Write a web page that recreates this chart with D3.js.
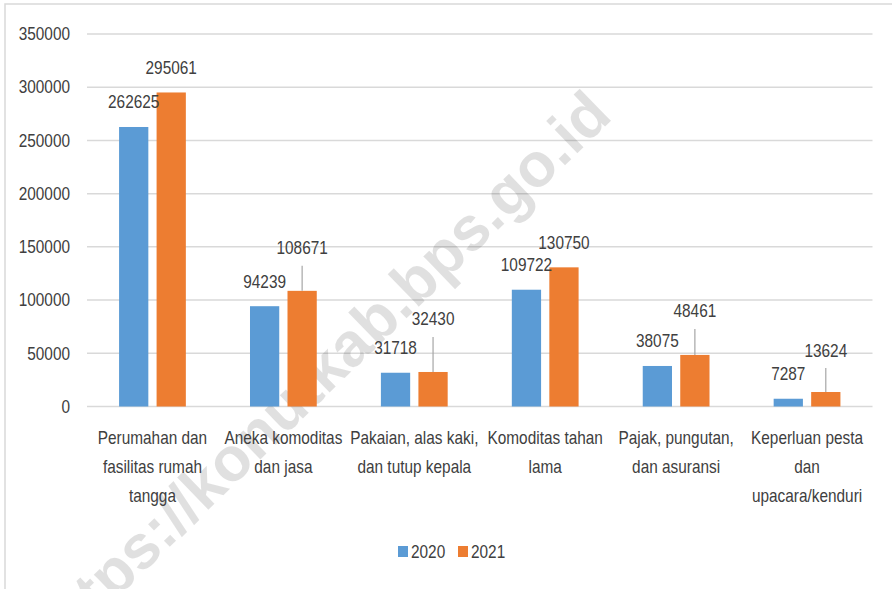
<!DOCTYPE html>
<html>
<head>
<meta charset="utf-8">
<script src="https://cdn.jsdelivr.net/npm/d3@7"></script>
<style>
  body { margin: 0; background: #fff; }
  svg text { font-family: "Liberation Sans", Arial, sans-serif; fill: #404040; }
</style>
</head>
<body>
<div id="chart"></div>
<script>
// data
var categories = [
    ["Perumahan dan", "fasilitas rumah", "tangga"],
    ["Aneka komoditas", "dan jasa"],
    ["Pakaian, alas kaki,", "dan tutup kepala"],
    ["Komoditas tahan", "lama"],
    ["Pajak, pungutan,", "dan asuransi"],
    ["Keperluan pesta", "dan", "upacara/kenduri"]
];
var years = ["2020", "2021"];
var values2020 = [262625, 94239, 31718, 109722, 38075, 7287];
var values2021 = [295061, 108671, 32430, 130750, 48461, 13624];
var yTicks = [0, 50000, 100000, 150000, 200000, 250000, 300000, 350000];
var colors = ["#5b9bd5", "#ed7d31"];

// labels of 2021 were dragged up in the original, some with leader lines
var labelLift2021 = [25, 43, 53, 25, 44, 42];

var W = 892, H = 589;
var margin = {top: 34, left: 87, right: 19.5, bottom: 182.5};
var fs = "18px", squeeze = 0.855;   // narrow text like the original

var svg = d3.select("#chart").append("svg")
    .attr("width", W).attr("height", H);

// outer frame (only top and left edges visible)
svg.append("rect").attr("x", 5).attr("y", 4)
    .attr("width", W + 20).attr("height", H + 20)
    .style("fill", "none").style("stroke", "#d9d9d9").style("stroke-width", 1.5);

var catIdx = categories.map(function(d, i) { return i; });
var x = d3.scaleBand().domain(catIdx).range([margin.left, W - margin.right]);
var bw = x.bandwidth();
var xSub = d3.scaleBand().domain(years).range([bw * 0.245, bw * 0.755]).paddingInner(0.22);
var y = d3.scaleLinear().domain([0, 350000]).range([H - margin.bottom, margin.top]);

function narrowText(parent, tx, ty, str) {
    return parent.append("text")
        .attr("transform", "translate(" + tx + "," + ty + ") scale(" + squeeze + ",1)")
        .style("font-size", fs).text(str);
}

// gridlines
svg.append("g").selectAll("line").data(yTicks).enter().append("line")
    .attr("x1", margin.left).attr("x2", W - margin.right)
    .attr("y1", function(d) { return y(d); }).attr("y2", function(d) { return y(d); })
    .style("stroke", "#d9d9d9").style("stroke-width", 1.5);

// y axis labels
var yAxis = d3.axisLeft(y).tickValues(yTicks).tickSize(0).tickPadding(17 / squeeze)
    .tickFormat(d3.format("d"));
var gy = svg.append("g").attr("transform", "translate(" + margin.left + ",0)").call(yAxis);
gy.select(".domain").remove();
gy.selectAll("text").style("font-size", fs).style("font-family", null).attr("fill", null)
    .attr("transform", "scale(" + squeeze + ",1)");

// watermark
svg.append("text")
    .attr("transform", "translate(614,118) rotate(-44)")
    .attr("text-anchor", "end")
    .style("font-weight", "bold").style("font-size", "62px")
    .style("fill", "#000").style("fill-opacity", 0.12)
    .text("https://konutkab.bps.go.id");

var series = [values2020, values2021];

// bars
series.forEach(function(vals, s) {
    svg.append("g").selectAll("rect").data(vals).enter().append("rect")
        .attr("x", function(d, i) { return x(i) + xSub(years[s]); })
        .attr("width", xSub.bandwidth())
        .attr("y", function(d) { return y(d); })
        .attr("height", function(d) { return y(0) - y(d); })
        .style("fill", colors[s]);
});

// value labels
series.forEach(function(vals, s) {
    var g = svg.append("g");
    vals.forEach(function(d, i) {
        var cx = x(i) + xSub(years[s]) + xSub.bandwidth() / 2;
        var lift = s === 0 ? 25 : labelLift2021[i];
        if (lift > 30) {
            g.append("line").attr("x1", cx).attr("x2", cx)
                .attr("y1", y(d) - lift + 18).attr("y2", y(d))
                .style("stroke", "#a6a6a6").style("stroke-width", 1.2);
        }
        narrowText(g, cx, y(d) - lift + 6.5, d).attr("text-anchor", "middle");
    });
});

// category labels
var gx = svg.append("g");
categories.forEach(function(lines, i) {
    var t = narrowText(gx, x(i) + bw / 2, 0, null).attr("text-anchor", "middle");
    lines.forEach(function(l, k) {
        t.append("tspan").attr("x", 0).attr("y", 444.5 + k * 29).text(l);
    });
});

// legend
var leg = svg.append("g");
var legX = [398, 458];
years.forEach(function(yr, s) {
    leg.append("rect").attr("x", legX[s]).attr("y", 546).attr("width", 10).attr("height", 11)
        .style("fill", colors[s]);
    narrowText(leg, legX[s] + 13, 558, yr);
});
</script>
</body>
</html>
